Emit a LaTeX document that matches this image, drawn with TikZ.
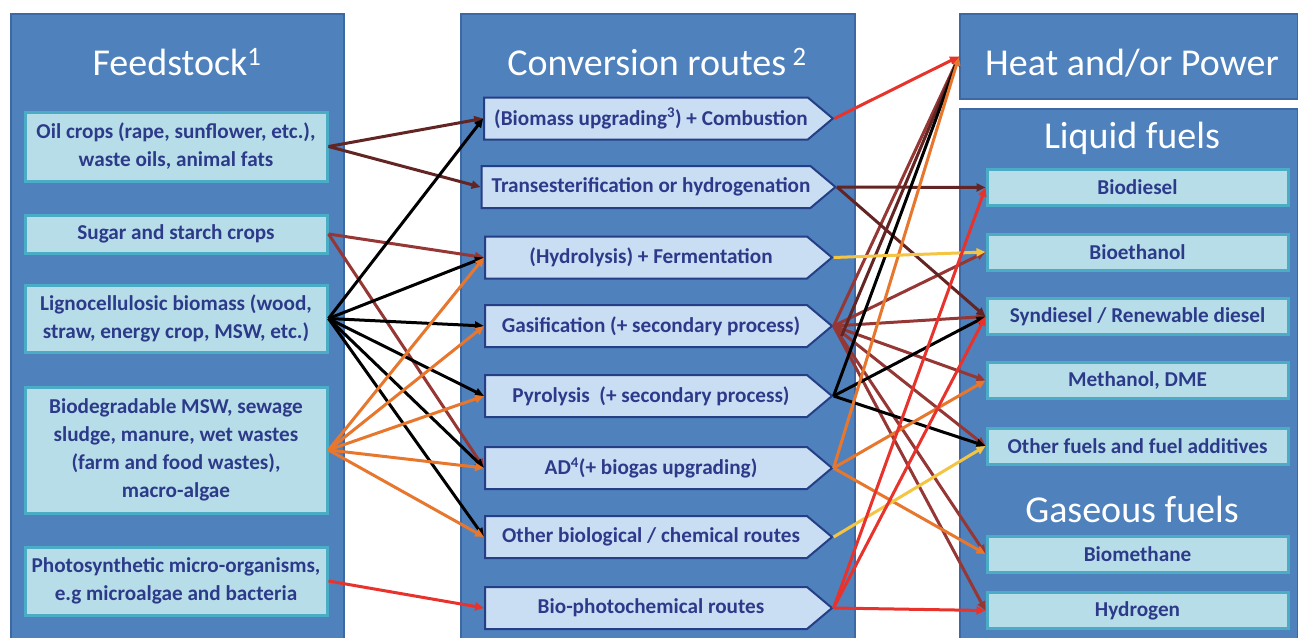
\documentclass[tikz,border=0pt]{standalone}
\usepackage{fontspec}
\setmainfont{Carlito}
\usetikzlibrary{shapes.symbols,arrows.meta}
\definecolor{panel}{HTML}{4F81BD}
\definecolor{paneledge}{HTML}{3C68A6}
\definecolor{boxfill}{HTML}{B7DEE8}
\definecolor{boxedge}{HTML}{4BACC6}
\definecolor{routefill}{HTML}{C9DDF3}
\definecolor{routeedge}{HTML}{253F86}
\definecolor{txt}{HTML}{2D3A8A}
\definecolor{cMaroon}{HTML}{632523}
\definecolor{cBrown}{HTML}{953735}
\definecolor{cOrange}{HTML}{E8772E}
\definecolor{cRed}{HTML}{E8322C}
\definecolor{cYellow}{HTML}{F4C443}
\tikzset{
  panelbox/.style={fill=panel, draw=paneledge, line width=2, anchor=north west, inner sep=0},
  titletext/.style={text=white, font=\fontsize{38}{40}\selectfont, anchor=base, inner sep=0},
  boxtext/.style={text=txt, font=\bfseries\fontsize{21.2}{28}\selectfont, align=center, inner sep=0},
  feedbox/.style={boxtext, fill=boxfill, draw=boxedge, line width=3, minimum width=302},
  fuelbox/.style={boxtext, fill=boxfill, draw=boxedge, line width=3, minimum width=301, minimum height=36},
  routebox/.style={boxtext, signal, signal to=east, signal pointer angle=80, fill=routefill,
     draw=routeedge, line width=2, minimum width=347, minimum height=42},
  link/.style={line width=3, -{Triangle[length=9,width=8]}},
}
\newcommand{\rtxt}[1]{\hspace*{10pt}#1}
\begin{document}
\begin{tikzpicture}[x=1pt,y=-1pt]
\clip (0,0) rectangle (1298,637);
\fill[white] (0,0) rectangle (1298,637);
% panels
\node[panelbox, minimum width=333, minimum height=630] (fpanel) at (10,13) {};
\node[panelbox, minimum width=394, minimum height=630] (cpanel) at (460,13) {};
\node[panelbox, minimum width=338, minimum height=85] (heat) at (959,13) {};
\node[panelbox, minimum width=338, minimum height=535] (lpanel) at (959,108) {};
% titles
\node[titletext] (tfeed) at (177,75) {Feedstock\textsuperscript{1}};
\node[titletext] (tconv) at (657,75) {Conversion routes\,\textsuperscript{2}};
\node[titletext] (theat) at (1132,75) {Heat and/or Power};
\node[titletext] (tliq) at (1132,148) {Liquid fuels};
\node[titletext] (tgas) at (1132,522) {Gaseous fuels};
% feedstock
\node[feedbox, minimum height=69] (f1) at (176,146.5) {Oil crops (rape, sunflower, etc.),\\waste oils, animal fats};
\node[feedbox, minimum height=38] (f2) at (176,234) {Sugar and starch crops};
\node[feedbox, minimum height=67] (f3) at (176,318.5) {Lignocellulosic biomass (wood,\\straw, energy crop, MSW, etc.)};
\node[feedbox, minimum height=126] (f4) at (176,450) {Biodegradable MSW, sewage\\sludge, manure, wet wastes\\(farm and food wastes),\\macro-algae};
\node[feedbox, minimum height=68] (f5) at (176,581) {Photosynthetic micro-organisms,\\e.g microalgae and bacteria};
% routes
\node[routebox] (r1) at (646,118.5) {\rtxt{(Biomass upgrading\textsuperscript{3}) + Combustion}};
\node[routebox] (r2) at (646,187) {\rtxt{Transesterification or hydrogenation}};
\node[routebox] (r3) at (646,257.5) {\rtxt{(Hydrolysis) + Fermentation}};
\node[routebox] (r4) at (646,326) {\rtxt{Gasification (+ secondary process)}};
\node[routebox] (r5) at (646,396) {\rtxt{Pyrolysis\ \ (+ secondary process)}};
\node[routebox] (r6) at (646,468) {\rtxt{AD\textsuperscript{4}(+ biogas upgrading)}};
\node[routebox] (r7) at (646,537) {\rtxt{Other biological / chemical routes}};
\node[routebox] (r8) at (646,608) {\rtxt{Bio-photochemical routes}};
% fuels
\node[fuelbox] (o1) at (1137.5,187.5) {Biodiesel};
\node[fuelbox] (o2) at (1137.5,252) {Bioethanol};
\node[fuelbox] (o3) at (1137.5,316.5) {Syndiesel / Renewable diesel};
\node[fuelbox] (o4) at (1137.5,380.5) {Methanol, DME};
\node[fuelbox] (o5) at (1137.5,446) {Other fuels and fuel additives};
\node[fuelbox] (o6) at (1137.5,554) {Biomethane};
\node[fuelbox] (o7) at (1137.5,610.5) {Hydrogen};
% left links
\draw[link, cMaroon] (f1.east) -- (r1.west);
\draw[link, cMaroon] (f1.east) -- (r2.west);
\draw[link, cBrown] (f2.east) -- (r3.west);
\draw[link, cBrown] (f2.east) -- (r6.west);
\foreach \t in {r1,r3,r4,r5,r6,r7} \draw[link, black] (f3.east) -- (\t.west);
\foreach \t in {r3,r4,r5,r6,r7} \draw[link, cOrange] (f4.east) -- (\t.west);
\draw[link, cRed] (f5.east) -- (r8.west);
% right links
\foreach \t in {heat,o2,o3,o4,o5,o6,o7} \draw[link, cBrown] (r4.east) -- (\t.west);
\draw[link, cMaroon] ([xshift=8,yshift=-10]r4.east) -- (heat.west);
\draw[link, cMaroon] (r2.east) -- (o1.west);
\draw[link, cMaroon] (r2.east) -- (o3.west);
\foreach \t in {heat,o3,o5} \draw[link, black] (r5.east) -- (\t.west);
\foreach \t in {heat,o4,o6} \draw[link, cOrange] (r6.east) -- (\t.west);
\draw[link, cYellow] (r3.east) -- (o2.west);
\draw[link, cYellow] (r7.east) -- (o5.west);
\foreach \t in {o1,o3,o7} \draw[link, cRed] (r8.east) -- (\t.west);
\draw[link, cRed] (r1.east) -- (heat.west);
\end{tikzpicture}
\end{document}
